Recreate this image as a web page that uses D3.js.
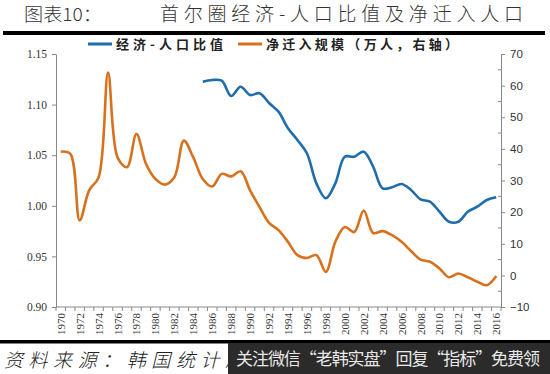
<!DOCTYPE html>
<html><head><meta charset="utf-8">
<script src="https://cdn.jsdelivr.net/npm/d3@7"></script>
<style>body{margin:0;background:#fff}svg{display:block}</style>
</head><body>
<svg id="c" width="550" height="374"></svg>
<script>
const years = d3.range(1970, 2017);
const xLabels = years.filter(y => y % 2 === 0).map(String);
const ratioYears = d3.range(1985, 2017);
const ratio = [1.1226,1.1243,1.1236,1.1085,1.1177,1.1095,1.1112,1.1016,1.093,1.0766,1.065,1.0519,1.0222,1.0074,1.0222,1.0485,1.0485,1.0535,1.0386,1.0173,1.0183,1.0215,1.0156,1.0064,1.0041,0.9942,0.9843,0.9843,0.9942,0.9991,1.0057,1.0084];
const migration = [39.1,38.5,17.4,26.9,31.0,64.1,37.3,34.2,44.7,35.3,30.5,28.7,31.0,42.6,37.3,30.5,28.1,32.1,31.3,32.9,26.9,21.6,16.6,14.3,10.6,6.4,5.5,6.4,1.1,10.6,15.3,13.7,20.5,13.4,14.0,12.7,10.6,7.7,5.0,4.3,2.2,-0.6,0.6,-0.6,-2.0,-3.1,-0.2];
const leftTicks = [0.90,0.95,1.00,1.05,1.10,1.15];
const rightTicks = [-10,0,10,20,30,40,50,60,70];
const seriesNames = ["经济-人口比值","净迁入规模（万人，右轴）"];
const colors = ["#1f6dab","#d8711e"];

const svg = d3.select("#c");
const L = 56, R = 501, T = 54, B = 307;
const x = d3.scaleBand().domain(years).range([L, R]);
const cx = d => x(d) + x.bandwidth()/2;
const yL = d3.scaleLinear().domain([0.90, 1.15]).range([B, T]);
const yR = d3.scaleLinear().domain([-10, 70]).range([B, T]);
const serif = "'Liberation Serif','DejaVu Serif',serif";
const cjk = "'Noto Sans CJK SC','Noto Sans CJK JP',sans-serif";

// title
svg.append("text").attr("x", 24).attr("y", 21).attr("font-family", cjk).attr("font-size", 18).attr("font-weight", 300)
  .attr("fill", "#333").text("图表10：").attr("textLength", 78).attr("lengthAdjust","spacingAndGlyphs");
svg.append("text").attr("x", 160).attr("y", 21).attr("font-family", cjk).attr("font-size", 19).attr("font-weight", 300)
  .attr("fill", "#333").attr("textLength", 363).text("首尔圈经济-人口比值及净迁入人口");
svg.append("rect").attr("x", 3).attr("y", 31).attr("width", 542).attr("height", 4).attr("fill", "#000");

// legend
const lg = [[88, 116, 107], [238, 266, 192]];
lg.forEach((p, i) => {
  svg.append("line").attr("x1", p[0]).attr("x2", p[0]+24).attr("y1", 44).attr("y2", 44)
    .attr("stroke", colors[i]).attr("stroke-width", 3);
  svg.append("text").attr("x", p[1]).attr("y", 49).attr("font-family", cjk).attr("font-size", 13)
    .attr("font-weight", "bold").attr("fill", "#222").attr("textLength", p[2]).text(seriesNames[i]);
});

// left axis
const gL = svg.append("g").attr("transform", `translate(${L},0)`)
  .call(d3.axisLeft(yL).tickValues(leftTicks).tickFormat(d3.format(".2f")).tickSize(4).tickSizeOuter(0));
gL.selectAll("text").attr("font-family", serif).attr("font-size", 11.5).attr("fill", "#333").attr("x", -9);
gL.select(".domain").attr("stroke", "#888");
gL.selectAll(".tick line").attr("stroke", "#888");

// right axis
const gR = svg.append("g").attr("transform", `translate(${R},0)`)
  .call(d3.axisRight(yR).tickValues(rightTicks).tickSize(4).tickSizeOuter(0));
gR.selectAll("text").attr("font-family", "'Liberation Sans',Arial,sans-serif").attr("font-size", 11.5).attr("fill", "#333").attr("x", 9);
gR.select(".domain").attr("stroke", "#888");
gR.selectAll(".tick line").attr("stroke", "#888");
gR.selectAll(".minor").data(d3.range(-5, 70, 10)).enter().append("line")
  .attr("x1", 0).attr("x2", -3).attr("y1", d => yR(d)).attr("y2", d => yR(d)).attr("stroke", "#888");

// x axis
const gX = svg.append("g").attr("transform", `translate(0,${B})`);
gX.append("line").attr("x1", L).attr("x2", R).attr("stroke", "#888");
gX.selectAll(".xt").data(years.concat([2017])).enter().append("line")
  .attr("x1", d => d === 2017 ? R : x(d)).attr("x2", d => d === 2017 ? R : x(d))
  .attr("y1", 0).attr("y2", 4).attr("stroke", "#888");
gX.selectAll(".xl").data(xLabels).enter().append("text")
  .attr("transform", d => `translate(${cx(+d)+4},6) rotate(-90)`)
  .attr("text-anchor", "end").attr("font-family", serif).attr("font-size", 11).attr("fill", "#333").text(d => d);

// lines
const lineR = d3.line().x((d, i) => cx(years[i])).y(d => yR(d)).curve(d3.curveCatmullRom.alpha(0.5));
svg.append("path").attr("d", lineR(migration)).attr("fill", "none").attr("stroke", colors[1]).attr("stroke-width", 2.6);
const lineL = d3.line().x((d, i) => cx(ratioYears[i])).y(d => yL(d)).curve(d3.curveCatmullRom.alpha(0.5));
svg.append("path").attr("d", lineL(ratio)).attr("fill", "none").attr("stroke", colors[0]).attr("stroke-width", 2.6);

// bottom bar & source
svg.append("rect").attr("x", 0).attr("y", 340).attr("width", 550).attr("height", 3.5).attr("fill", "#000");
svg.append("text").attr("x", 4).attr("y", 367).attr("font-family", cjk).attr("font-size", 19).attr("font-weight", 300)
  .attr("font-style", "italic").attr("fill", "#222").attr("textLength", 240).text("资料来源：韩国统计局");
svg.append("rect").attr("x", 228).attr("y", 343).attr("width", 322).attr("height", 31).attr("fill", "#2b2b2b");
svg.append("text").attr("x", 236).attr("y", 365).attr("font-family", cjk).attr("font-size", 17)
  .attr("fill", "#e8e8e8").attr("textLength", 304).text("关注微信“老韩实盘”回复“指标”免费领");
</script>
</body></html>
